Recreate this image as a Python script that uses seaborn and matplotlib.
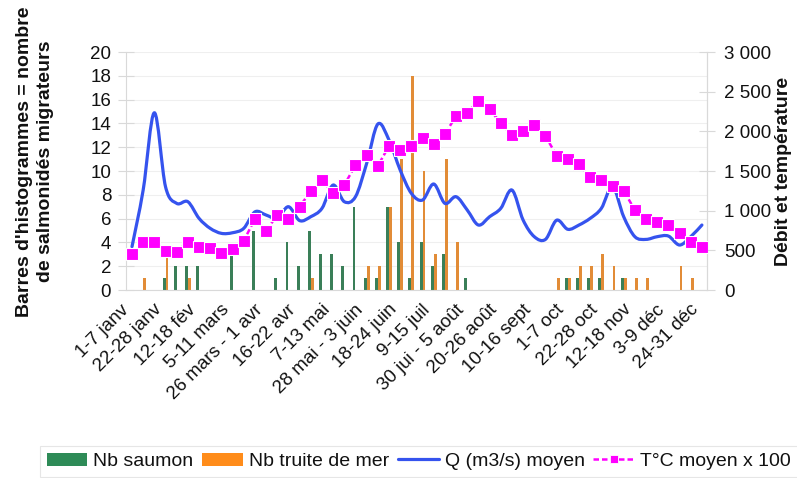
import numpy as np
import pandas as pd
import matplotlib
matplotlib.use("Agg")
import matplotlib.pyplot as plt
import seaborn as sns
from matplotlib.path import Path
from matplotlib.patches import PathPatch, Patch
from matplotlib.lines import Line2D
from matplotlib.ticker import FuncFormatter, MultipleLocator, FixedLocator

# Weekly categories
weeks = [
    "1-7 janv", "8-14 janv", "15-21 janv", "22-28 janv", "29 janv - 4 fév",
    "5-11 fév", "12-18 fév", "19-25 fév", "26 fév - 4 mars",
    "5-11 mars", "12-18 mars", "19-25 mars", "26 mars - 1 avr",
    "2-8 avr", "9-15 avr", "16-22 avr", "23-29 avr", "30 avr - 6 mai",
    "7-13 mai", "14-20 mai", "21-27 mai", "28 mai - 3 juin",
    "4-10 juin", "11-17 juin", "18-24 juin", "25 juin - 1 juil",
    "2-8 juil", "9-15 juil", "16-22 juil", "23-29 juil", "30 jui - 5 août",
    "6-12 août", "13-19 août", "20-26 août", "27 août - 2 sept",
    "3-9 sept", "10-16 sept", "17-23 sept", "24-30 sept",
    "1-7 oct", "8-14 oct", "15-21 oct", "22-28 oct", "29 oct - 4 nov",
    "5-11 nov", "12-18 nov", "19-25 nov", "26 nov - 2 déc",
    "3-9 déc", "10-16 déc", "17-23 déc", "24-31 déc",
]

# Salmon counts per week
saumon = [0, 0, 0, 1, 2, 2, 2, 0, 0, 3, 0, 5, 0, 1, 4, 2, 5, 3, 3, 2,
          7, 1, 1, 7, 4, 1, 4, 2, 3, 0, 1, 0, 0, 0, 0, 0, 0, 0, 0, 1,
          1, 1, 1, 0, 1, 0, 0, 0, 0, 0, 0, 0]

# Sea-trout counts per week
truite = [0, 1, 0, 3, 0, 1, 0, 0, 0, 0, 0, 0, 0, 0, 0, 0, 1, 0, 0, 0,
          0, 2, 2, 7, 11, 18, 10, 3, 11, 4, 0, 0, 0, 0, 0, 0, 0, 0, 1, 1,
          2, 2, 3, 2, 1, 1, 1, 0, 0, 2, 1, 0]

# Mean discharge (right axis)
debit = [546, 1260, 2234, 1302, 1092, 1113, 903, 777, 714, 722,
         777, 985, 945, 903, 1050, 875, 924, 1029, 1323, 1113,
         1176, 1596, 2092, 1890, 1512, 1218, 1134, 1336, 1092, 1176,
         1008, 819, 924, 1029, 1260, 882, 672, 638, 880, 765,
         819, 903, 1029, 1302, 924, 672, 638, 672, 680, 567,
         672, 819]

# Mean water temperature x 100 (right axis)
temperature = [450, 600, 600, 495, 482, 605, 546, 525, 470, 512,
               621, 895, 747, 945, 898, 1050, 1247, 1386, 1218, 1323,
               1575, 1701, 1566, 1814, 1764, 1814, 1911, 1840, 1966, 2192,
               2234, 2385, 2277, 2108, 1949, 2007, 2079, 1940, 1695, 1653,
               1588, 1428, 1386, 1310, 1251, 1008, 891, 861, 819, 714,
               609, 546]

tick_every = 3
green = "#2E8B57"
orange = "#FF8C1A"
blue = "#3553EE"
magenta = "#FF00FF"
axis_grey = "#D9D9D9"

sns.set_theme(style="white")
plt.rcParams["font.family"] = ["Liberation Sans", "DejaVu Sans"]

fig = plt.figure(figsize=(7.97, 4.78), dpi=100)
ax = fig.add_axes([0.1586, 0.3933, 0.7291, 0.4979])

counts = pd.DataFrame({
    "semaine": weeks * 2,
    "espece": ["Nb saumon"] * len(weeks) + ["Nb truite de mer"] * len(weeks),
    "nombre": saumon + truite,
})
sns.barplot(data=counts, x="semaine", y="nombre", hue="espece",
            order=weeks, hue_order=["Nb saumon", "Nb truite de mer"],
            palette=[green, orange], width=0.52, gap=0, linewidth=0,
            legend=False, ax=ax, zorder=2)

ax.set_xlim(-0.5, len(weeks) - 0.5)
ax.set_ylim(0, 20)
ax.yaxis.set_major_locator(MultipleLocator(2))
ax.grid(axis="y", color="#EFEFEF", linewidth=0.8, zorder=0)
ax.set_axisbelow(True)

idx = list(range(0, len(weeks), tick_every))
ax.xaxis.set_major_locator(FixedLocator(idx))
ax.set_xticklabels([weeks[i] for i in idx], rotation=45, ha="right",
                   fontsize=13.5, color="#111111")
ax.xaxis.set_minor_locator(FixedLocator(np.arange(-0.5, len(weeks), 1.0)))
ax.tick_params(axis="x", which="major", length=0, pad=8)
ax.tick_params(axis="x", which="minor", length=9, direction="inout",
               color=axis_grey, width=0.8)
ax.tick_params(axis="y", length=11, direction="inout", color=axis_grey,
               width=0.8, labelsize=13.5, pad=5.5, labelcolor="#111111")
ax.set_xlabel("")
ax.set_ylabel("Barres d'histogrammes = nombre\nde salmonidés migrateurs",
              fontsize=14, fontweight="bold", color="#111111",
              linespacing=1.3)
ax.yaxis.set_label_coords(-0.125, 0.54)

ax.spines["top"].set_visible(False)
for side in ["left", "bottom", "right"]:
    ax.spines[side].set_color(axis_grey)
    ax.spines[side].set_linewidth(0.8)

ax2 = ax.twinx()
ax2.set_ylim(0, 3000)
ax2.yaxis.set_major_locator(MultipleLocator(500))
ax2.yaxis.set_major_formatter(
    FuncFormatter(lambda v, _: f"{int(v):,}".replace(",", " ")))
ax2.tick_params(axis="y", length=11, direction="inout", color=axis_grey,
                width=0.8, labelsize=13.5, pad=6.5, labelcolor="#111111")
for side in ["top", "left", "bottom"]:
    ax2.spines[side].set_visible(False)
ax2.spines["right"].set_color(axis_grey)
ax2.spines["right"].set_linewidth(0.8)
ax2.set_ylabel("Débit et température", fontsize=14, fontweight="bold",
               color="#111111")
ax2.yaxis.set_label_coords(1.117, 0.5)


def smooth_path(xs, ys):
    """Cubic Bezier path through every point (Catmull-Rom tangents)."""
    pts = np.column_stack([xs, ys]).astype(float)
    ext = np.vstack([pts[0], pts, pts[-1]])
    verts = [pts[0]]
    codes = [Path.MOVETO]
    for i in range(len(pts) - 1):
        p0, p1, p2, p3 = ext[i], ext[i + 1], ext[i + 2], ext[i + 3]
        verts += [p1 + (p2 - p0) / 6.0, p2 - (p3 - p1) / 6.0, p2]
        codes += [Path.CURVE4] * 3
    return Path(verts, codes)


xpos = np.arange(len(weeks))
q_line = PathPatch(smooth_path(xpos, debit), facecolor="none",
                   edgecolor=blue, linewidth=2.3, capstyle="round",
                   joinstyle="round", transform=ax2.transData, zorder=2)
ax2.add_patch(q_line)

sns.lineplot(x=xpos, y=temperature, ax=ax2, color=magenta, linewidth=1.8,
             linestyle=(0, (2.2, 1.2)), marker="s", markersize=8,
             markeredgecolor="white", markeredgewidth=0.8, zorder=3)

handles = [
    Patch(facecolor=green, edgecolor="none"),
    Patch(facecolor=orange, edgecolor="none"),
    Line2D([], [], color=blue, linewidth=2.3),
    Line2D([], [], color=magenta, linewidth=1.8, linestyle=(0, (2.2, 1.2)),
           marker="s", markersize=6, markeredgecolor="white",
           markeredgewidth=0.6),
]
labels = ["Nb saumon", "Nb truite de mer", "Q (m3/s) moyen",
          "T°C moyen x 100"]
leg = fig.legend(handles, labels, loc="lower left",
                 bbox_to_anchor=(0.05, 0.002), ncol=4, fontsize=14,
                 frameon=True, fancybox=False, handlelength=2.1,
                 handletextpad=0.3, columnspacing=0.45, borderpad=0.35,
                 borderaxespad=0.0)
leg.get_frame().set_edgecolor("#E0E0E0")
leg.get_frame().set_linewidth(0.8)
for t in leg.get_texts():
    t.set_color("#111111")

fig.savefig("out.png", dpi=100, facecolor="white")
